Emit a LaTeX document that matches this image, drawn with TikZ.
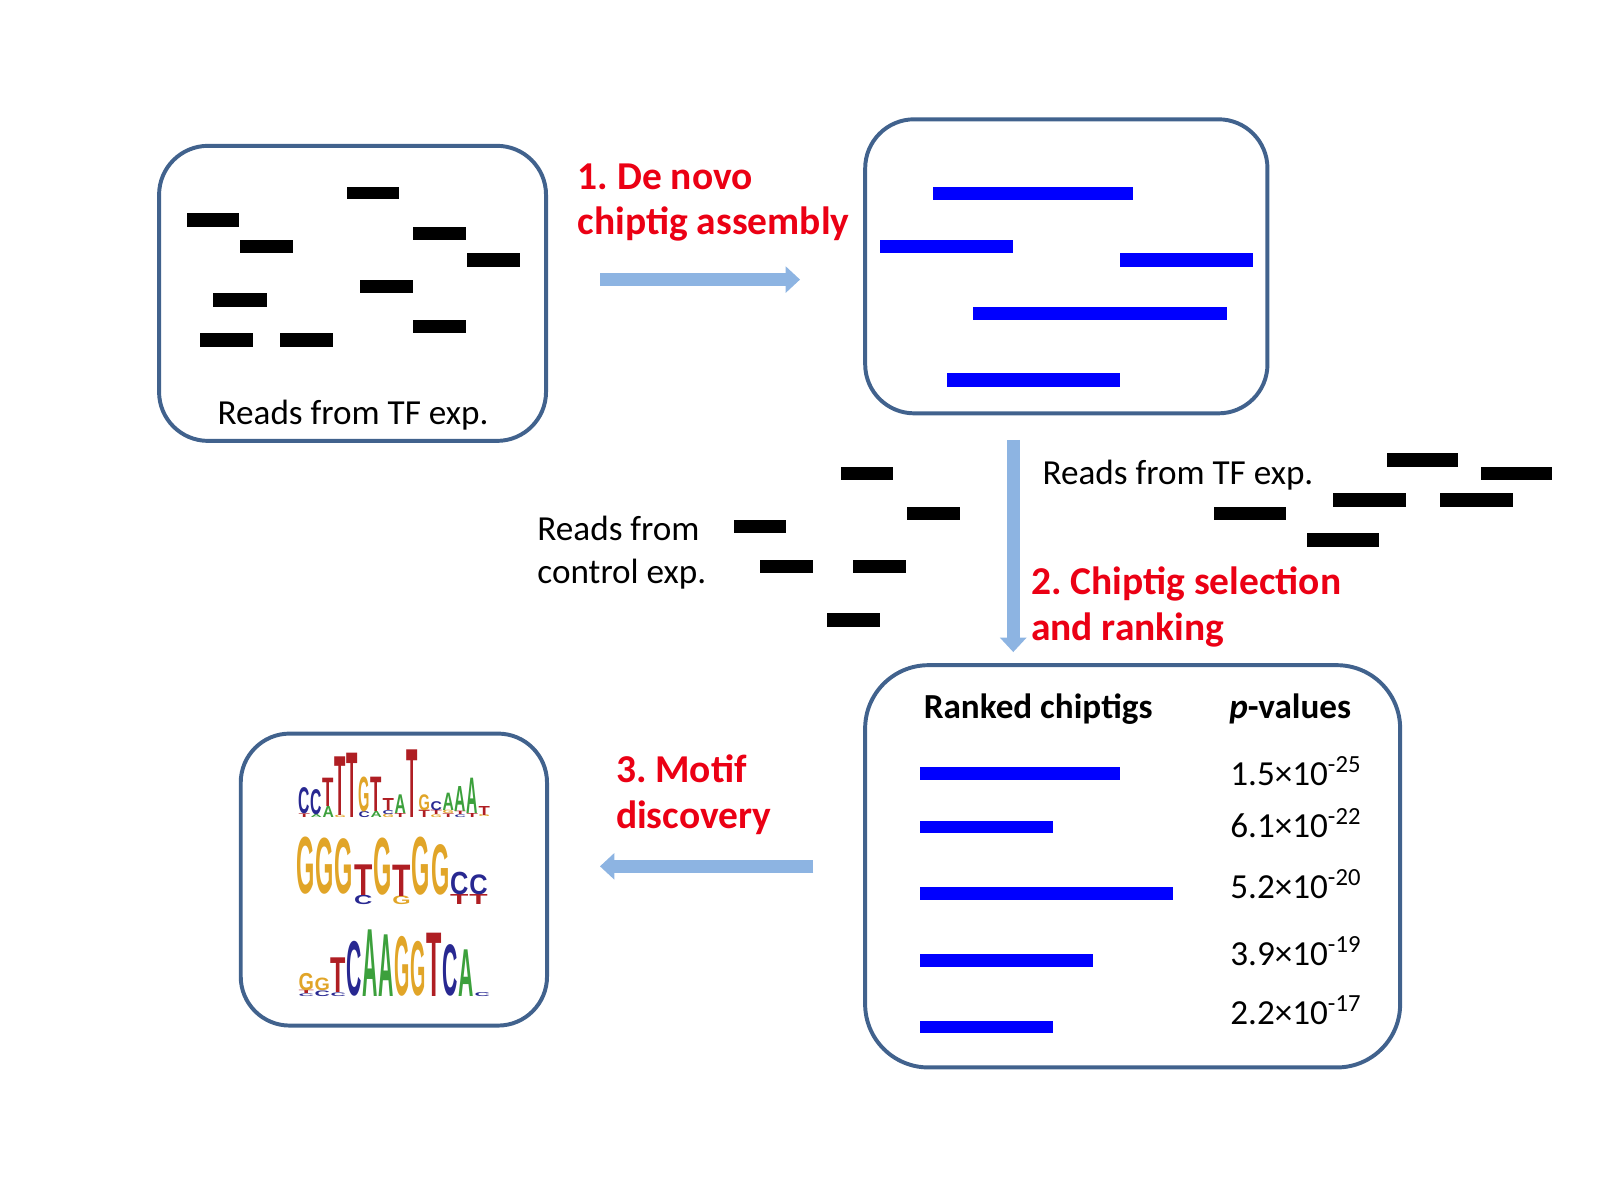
\documentclass[tikz,border=0pt]{standalone}
\usepackage{fontspec}
\setmainfont{Carlito}
\newfontfamily\logofont{Liberation Sans}
\usetikzlibrary{arrows.meta}
\frenchspacing
\definecolor{boxline}{RGB}{65,98,141}
\definecolor{arrowblue}{RGB}{141,180,226}
\definecolor{stepred}{RGB}{235,0,20}
\definecolor{lgA}{RGB}{60,160,60}
\definecolor{lgC}{RGB}{40,40,145}
\definecolor{lgG}{RGB}{225,165,40}
\definecolor{lgT}{RGB}{175,30,35}
\newlength\lgs \setlength\lgs{0.0032667cm}
\newlength\lgw
\newcounter{lgn}
\newcommand\LG[5]{\stepcounter{lgn}\node[logoletter,text=#5] (lg\thelgn) at (#1,#2) {\resizebox*{\lgw}{\dimexpr\lgs*(#2-#3)\relax}{\logofont\bfseries #4}};}
\tikzset{
  panel/.style={draw=boxline, line width=1.1pt, rectangle, inner sep=0pt},
  readbar/.style={fill=black},
  contig/.style={fill=blue},
  flow/.style={draw=arrowblue, line width=0.13cm, -{Triangle[length=0.14cm,width=0.26cm,line width=0pt]}},
  txt/.style={font=\fontsize{9.8}{12}\selectfont, inner sep=0pt, anchor=base west},
  hdr/.style={font=\fontsize{9.8}{12}\selectfont\bfseries, inner sep=0pt, anchor=base west},
  steplabel/.style={font=\fontsize{11}{13}\selectfont\bfseries, text=stepred, inner sep=0pt, anchor=base west},
  logoletter/.style={inner sep=0pt, outer sep=0pt, anchor=south west}
}
\begin{document}
\begin{tikzpicture}[x=0.01cm,y=-0.01cm]
\useasboundingbox (0,0) rectangle (1568,1176);
% panels
\node[panel, minimum width=3.79cm, minimum height=2.89cm, rounded corners=0.48cm] (tfbox) at (345.5,287.5) {};
\node[panel, minimum width=3.94cm, minimum height=2.88cm, rounded corners=0.48cm] (contigbox) at (1045,261) {};
\node[panel, minimum width=5.24cm, minimum height=3.94cm, rounded corners=0.62cm] (rankbox) at (1110,849) {};
\node[panel, minimum width=3.00cm, minimum height=2.86cm, rounded corners=0.48cm] (motifbox) at (386,862) {};
% reads in TF box
\fill[readbar] (339.6,183) rectangle (391.3,195.3);
\fill[readbar] (183,209) rectangle (234.7,222.2);
\fill[readbar] (235.6,235.2) rectangle (287.4,248.3);
\fill[readbar] (405.2,222.2) rectangle (457,235.2);
\fill[readbar] (457.5,248.3) rectangle (509.2,261.4);
\fill[readbar] (352.6,274.4) rectangle (404.8,287.5);
\fill[readbar] (209.1,287.5) rectangle (261.3,300.6);
\fill[readbar] (405.2,313.6) rectangle (457,326.7);
\fill[readbar] (196,326.7) rectangle (247.8,339.8);
\fill[readbar] (274.8,326.7) rectangle (326.5,339.8);
\node[txt, anchor=base] (tflabel) at (346,416.5) {Reads from TF exp.};
% contigs
\fill[contig] (914.7,183) rectangle (1110.7,196);
\fill[contig] (862.4,235.2) rectangle (993,248.3);
\fill[contig] (1097.6,248.3) rectangle (1228.3,261.4);
\fill[contig] (953.9,300.6) rectangle (1202.1,313.6);
\fill[contig] (927.8,365.9) rectangle (1097.6,379);
% step 1
\node[steplabel] (s1a) at (565.5,185.5) {1. De novo};
\node[steplabel] (s1b) at (565.5,229.5) {chiptig assembly};
\coordinate (a1s) at (588,274);
\coordinate (a1e) at (784,274);
\draw[flow] (a1s) -- (a1e);
% step 2
\coordinate (a2s) at (993,431);
\coordinate (a2e) at (993,639);
\draw[flow] (a2s) -- (a2e);
\node[steplabel] (s2a) at (1009.8,582.5) {2. Chiptig selection};
\node[steplabel] (s2b) at (1009.8,628) {and ranking};
\node[txt] (tfreads) at (1021,474.7) {Reads from TF exp.};
\fill[readbar] (1359,444.3) rectangle (1429,457.4);
\fill[readbar] (1451,457.4) rectangle (1521,470.4);
\fill[readbar] (1306.7,483.5) rectangle (1377.7,496.6);
\fill[readbar] (1411,483.5) rectangle (1483,496.6);
\fill[readbar] (1189.7,496.6) rectangle (1260.3,509.6);
\fill[readbar] (1280.7,522.7) rectangle (1351.4,535.8);
\node[txt] (ctla) at (526,530) {Reads from};
\node[txt] (ctlb) at (526,572) {control exp.};
\fill[readbar] (823.9,457.4) rectangle (875.4,470.4);
\fill[readbar] (888.8,496.6) rectangle (941,509.6);
\fill[readbar] (719,509.6) rectangle (770.4,522.7);
\fill[readbar] (745,548.8) rectangle (797,561.8);
\fill[readbar] (836,548.8) rectangle (888,561.8);
\fill[readbar] (810,601) rectangle (862,614.2);
% ranked box
\node[hdr] (rankhdr) at (904.6,704) {Ranked chiptigs};
\node[hdr] (pvhdr) at (1204,704) {\textit{p}-values};
\fill[contig] (901.9,752) rectangle (1097.2,764.4);
\fill[contig] (901.9,804.3) rectangle (1031.8,816.7);
\fill[contig] (901.9,869.6) rectangle (1149.5,882);
\fill[contig] (901.9,935) rectangle (1071.4,947.4);
\fill[contig] (901.9,1000.3) rectangle (1031.8,1012.7);
\node[txt] (pv1) at (1205,769.5) {1.5×10\textsuperscript{-25}};
\node[txt] (pv2) at (1205,821) {6.1×10\textsuperscript{-22}};
\node[txt] (pv3) at (1205,880.5) {5.2×10\textsuperscript{-20}};
\node[txt] (pv4) at (1205,946) {3.9×10\textsuperscript{-19}};
\node[txt] (pv5) at (1205,1004) {2.2×10\textsuperscript{-17}};
% step 3
\coordinate (a3s) at (797,849);
\coordinate (a3e) at (588,849);
\draw[flow] (a3s) -- (a3e);
\node[steplabel] (s3a) at (603,767) {3. Motif};
\node[steplabel] (s3b) at (603,812) {discovery};
% logo row 1
\begin{scope}[shift={(284.2,730.1)}, x=0.0032667cm, y=-0.0032667cm]
\setlength\lgw{34\lgs}
\LG{26}{218}{207}{T}{lgT}\LG{26}{207}{128}{C}{lgC}
\LG{62}{218}{209}{A}{lgA}\LG{62}{209}{133}{C}{lgC}
\LG{98}{218}{185}{A}{lgA}\LG{98}{185}{100}{T}{lgT}
\LG{134}{218}{211}{G}{lgG}\LG{134}{211}{35}{T}{lgT}
\LG{170}{218}{25}{T}{lgT}
\LG{206}{218}{200}{C}{lgC}\LG{206}{200}{95}{G}{lgG}
\LG{242}{218}{200}{A}{lgA}\LG{242}{200}{97}{T}{lgT}
\LG{278}{218}{208}{G}{lgG}\LG{278}{208}{196}{C}{lgC}\LG{278}{196}{160}{T}{lgT}
\LG{314}{218}{206}{T}{lgT}\LG{314}{206}{150}{A}{lgA}
\LG{350}{218}{15}{T}{lgT}
\LG{386}{218}{196}{T}{lgT}\LG{386}{196}{148}{G}{lgG}
\LG{422}{218}{210}{G}{lgG}\LG{422}{210}{197}{T}{lgT}\LG{422}{197}{170}{C}{lgC}
\LG{458}{218}{207}{T}{lgT}\LG{458}{207}{197}{G}{lgG}\LG{458}{197}{145}{A}{lgA}
\LG{494}{218}{210}{C}{lgC}\LG{494}{210}{200}{T}{lgT}\LG{494}{200}{125}{A}{lgA}
\LG{530}{218}{206}{T}{lgT}\LG{530}{206}{100}{A}{lgA}
\LG{566}{218}{212}{G}{lgG}\LG{566}{212}{185}{T}{lgT}
\end{scope}
% logo row 2
\begin{scope}[shift={(284.2,808.5)}, x=0.0032667cm, y=-0.0032667cm]
\setlength\lgw{55\lgs}
\LG{19}{207}{35}{G}{lgG}
\LG{77}{207}{38}{G}{lgG}
\LG{134}{207}{40}{G}{lgG}
\LG{192}{240}{212}{C}{lgC}\LG{192}{212}{120}{T}{lgT}
\LG{250}{210}{38}{G}{lgG}
\LG{307}{240}{214}{G}{lgG}\LG{307}{214}{120}{T}{lgT}
\LG{365}{210}{35}{G}{lgG}
\LG{423}{210}{58}{G}{lgG}
\LG{480}{238}{208}{T}{lgT}\LG{480}{208}{140}{C}{lgC}
\LG{538}{238}{208}{T}{lgT}\LG{538}{208}{148}{C}{lgC}
\end{scope}
% logo row 3
\begin{scope}[shift={(284.2,896.7)}, x=0.0032667cm, y=-0.0032667cm]
\setlength\lgw{46\lgs}
\LG{26}{245}{237}{C}{lgC}\LG{26}{237}{227}{T}{lgT}\LG{26}{227}{175}{G}{lgG}
\LG{74}{245}{228}{C}{lgC}\LG{74}{228}{190}{G}{lgG}
\LG{122}{245}{234}{C}{lgC}\LG{122}{234}{130}{T}{lgT}
\LG{170}{245}{80}{C}{lgC}
\LG{218}{245}{45}{A}{lgA}
\LG{266}{245}{60}{A}{lgA}
\LG{314}{245}{65}{G}{lgG}
\LG{362}{245}{80}{G}{lgG}
\LG{410}{245}{55}{T}{lgT}
\LG{458}{245}{90}{C}{lgC}
\LG{506}{245}{105}{A}{lgA}
\LG{554}{245}{233}{C}{lgC}
\end{scope}
\end{tikzpicture}
\end{document}
